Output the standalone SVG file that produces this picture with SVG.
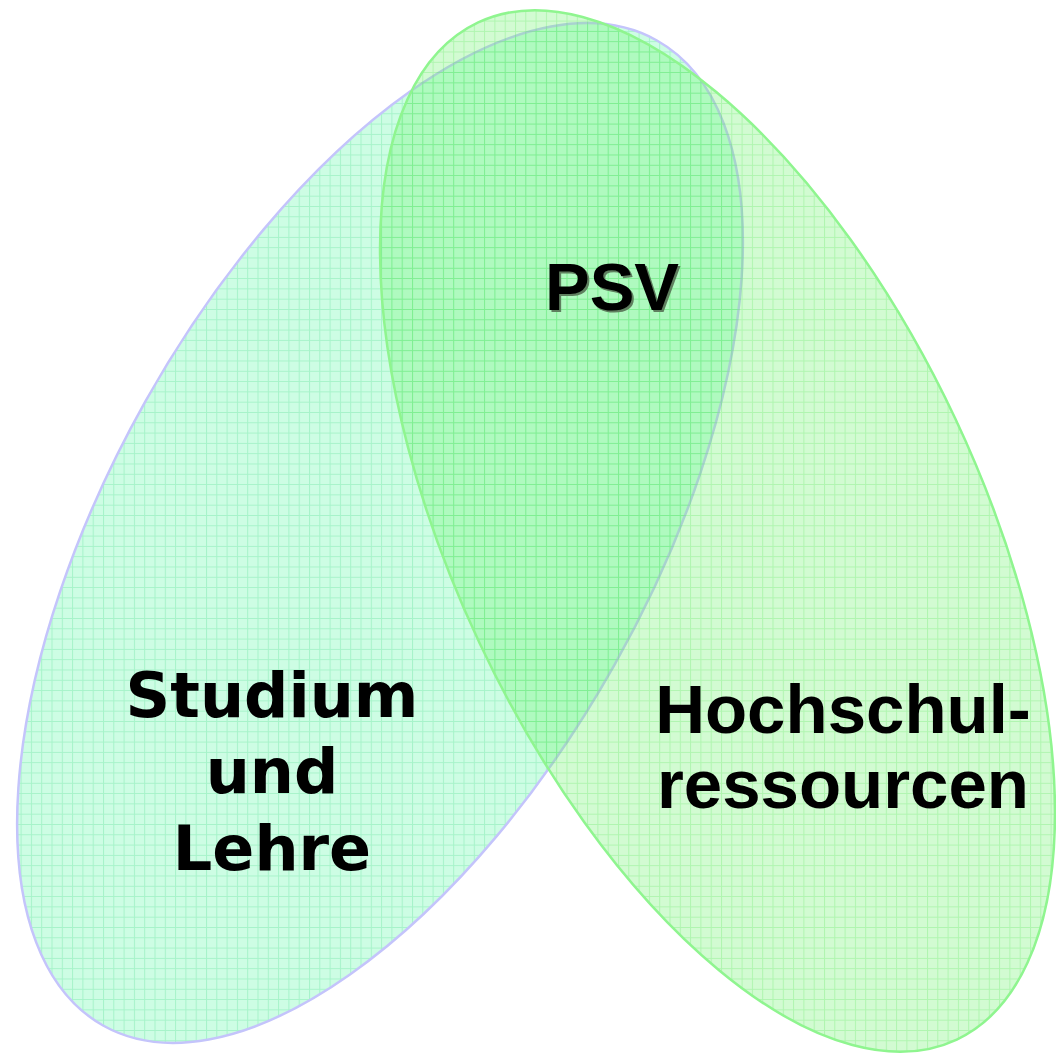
<svg xmlns="http://www.w3.org/2000/svg" width="1056" height="1054" viewBox="0 0 1056 1054">
  <defs>
    <pattern id="gridMint" patternUnits="userSpaceOnUse" width="10.3" height="10.3" patternTransform="rotate(60.65 380 533)">
      <rect width="10.3" height="10.3" fill="#cdfde4"/>
      <path d="M0 0.5 H10.3 M0.5 0 V10.3" stroke="#a6f3c9" stroke-width="1" fill="none"/>
    </pattern>
    <pattern id="gridGreen" patternUnits="userSpaceOnUse" width="10.3" height="10.3" patternTransform="rotate(-64.8 717.5 531)">
      <rect width="10.3" height="10.3" fill="#6cf26c" fill-opacity="0.3"/>
      <path d="M0 0.5 H10.3 M0.5 0 V10.3" stroke="#33dd33" stroke-opacity="0.22" stroke-width="1" fill="none"/>
    </pattern>
  </defs>
  <style>
    .lbl { font-weight: bold; fill: #000; text-anchor: middle; }
    .arial { font-family: "Liberation Sans", Arial, sans-serif; }
    .dejavu { font-family: "DejaVu Sans", Verdana, sans-serif; }
  </style>
  <rect width="1056" height="1054" fill="#ffffff"/>
  <g id="studium-und-lehre">
    <ellipse cx="380" cy="533" rx="565" ry="269" transform="rotate(-60.65 380 533)" fill="url(#gridMint)" stroke="#c4c4fb" stroke-width="2.5"/>
  </g>
  <g id="hochschulressourcen">
    <ellipse cx="717.5" cy="531" rx="562" ry="263" transform="rotate(64.8 717.5 531)" fill="url(#gridGreen)" stroke="#8ff58f" stroke-width="2.5"/>
  </g>
  <g id="connectors"/>
  <g id="label-psv">
    <text class="lbl arial" x="614" y="312" font-size="67" style="fill:#5f7f5f">PSV</text>
    <text class="lbl arial" x="612" y="310" font-size="67">PSV</text>
  </g>
  <g id="label-studium">
    <text class="lbl dejavu" x="272" y="717" font-size="62">Studium</text>
    <text class="lbl dejavu" x="272" y="793" font-size="62">und</text>
    <text class="lbl dejavu" x="272" y="870" font-size="62">Lehre</text>
  </g>
  <g id="label-hochschul">
    <text class="lbl arial" x="843" y="733" font-size="69">Hochschul-</text>
    <text class="lbl arial" x="843" y="808" font-size="69">ressourcen</text>
  </g>
</svg>
